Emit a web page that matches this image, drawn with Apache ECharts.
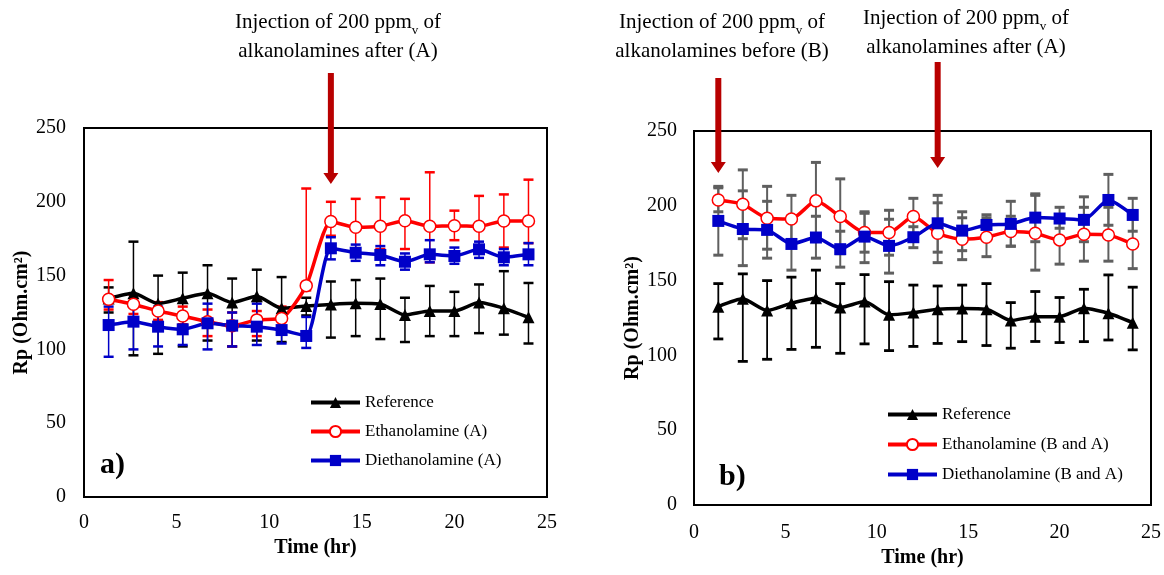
<!DOCTYPE html>
<html>
<head>
<meta charset="utf-8">
<script src="https://cdn.jsdelivr.net/npm/echarts@6/dist/echarts.min.js"></script>
<style>
html,body{margin:0;padding:0;background:#fff;}
#c{width:1164px;height:575px;}
</style>
</head>
<body>
<div id="c"></div>
<script>
// ---- Data ----
const times = [1.33, 2.67, 4, 5.33, 6.67, 8, 9.33, 10.67, 12, 13.33, 14.67, 16, 17.33, 18.67, 20, 21.33, 22.67, 24];
const xTicks = [0, 5, 10, 15, 20, 25];
const yTicks = [0, 50, 100, 150, 200, 250];

// Panel a)
const refA   = [134.5, 138, 131, 134.6, 138, 131.7, 136, 127.8, 129.4, 130.5, 131.2, 130.8, 123.3, 126, 126, 131.7, 127.8, 121.7];
const refAHi = [142, 173, 150, 152, 157, 148, 154, 149, 135, 146, 147, 148, 135, 143, 139, 144, 153, 145];
const refALo = [125, 96, 97, 102, 106, 102, 106, 105, 123, 108, 109, 107, 105, 109, 109, 111, 110, 104];

const ethA   = [134, 130.6, 126, 122.6, 118.8, 116, 120, 121, 143.2, 186.7, 182.7, 183.4, 187.2, 183.4, 183.8, 183.4, 187, 187];
const ethAHi = [147, 137, 132, 129, 127, 125, 126, 129, 209, 200, 202, 203, 202, 220, 194, 204, 205, 215];
const ethALo = [127, 124, 120, 117, 109, 102, 109, 110, 140, 177, 168, 168, 168, 159, 174, 168, 169, 172];

const dieA   = [116.5, 118.8, 115.4, 113.6, 117.7, 116.1, 115.4, 113.1, 109.1, 168.5, 165.5, 164, 159.4, 164.4, 163.3, 167.8, 162.4, 164.4];
const dieAHi = [129, 131, 129, 124, 131, 125, 131, 121, 122, 176, 171, 170, 165, 174, 169, 173, 168, 172];
const dieALo = [95, 100, 102, 103, 100, 102, 103, 104, 101, 161, 160, 157, 154, 159, 158, 162, 157, 157];

// Panel b)
const refB   = [132.6, 137.8, 130, 134.9, 138.2, 132, 136, 127.1, 128.6, 130.9, 131.3, 130.9, 123.3, 125.9, 125.9, 131.5, 128.2, 121.9];
const refBHi = [148, 154.5, 150, 152.3, 157, 148, 154, 149.3, 147, 146.4, 147, 148, 135.3, 142.7, 138.7, 144.2, 153.8, 145.6];
const refBLo = [111, 96, 97.4, 104, 105.4, 101.4, 107.7, 103.2, 106, 108, 109.2, 106.6, 104.8, 109.3, 108.6, 109.2, 110.3, 103.7];

const ethB   = [203.9, 201, 191.7, 191.2, 203.3, 192.8, 182.1, 182.1, 192.8, 181.6, 177.6, 179, 182.8, 181.6, 177.2, 181, 180.5, 174.5];
const ethBHi = [212, 224, 213, 207, 229, 218, 195, 197, 205, 202, 192, 192, 193, 207, 193, 199, 199, 192];
const ethBLo = [196, 178, 171, 175, 177, 168, 169, 167, 181, 162, 164, 166, 173, 157, 161, 163, 163, 158];

const dieB   = [189.9, 184.5, 183.9, 174.5, 178.8, 171, 179.4, 173.2, 179, 188.3, 183.4, 187.2, 187.9, 192.1, 191.5, 190.6, 203.9, 193.9];
const dieBHi = [213, 210, 203, 193, 193, 183, 196, 191, 186, 207, 196, 194, 203, 208, 199, 206, 221, 205];
const dieBLo = [167, 160, 165, 157, 165, 159, 162, 155, 172, 169, 170, 180, 173, 176, 185, 176, 187, 183];

const namesA = ['Reference', 'Ethanolamine (A)', 'Diethanolamine (A)'];
const namesB = ['Reference', 'Ethanolamine (B and A)', 'Diethanolamine (B and A)'];
const injectionAfter = 13.33;
const injectionBefore = 1.33;

// ---- Helpers ----
const FONT = '"Liberation Serif", "Times New Roman", serif';
const RED = '#ff0000', BLUE = '#0000c8', BLACK = '#000000', GREY = '#5f5f5f', DARKRED = '#b80000';

function pairs(vals) { return times.map((t, i) => [t, vals[i]]); }
function errData(lo, hi) { return times.map((t, i) => [t, lo[i], hi[i]]); }

function errSeries(idx, lo, hi, color, lw) {
  return {
    type: 'custom', xAxisIndex: idx, yAxisIndex: idx, z: 1, silent: true,
    data: errData(lo, hi), encode: { x: 0, y: [1, 2] },
    renderItem: function (params, api) {
      const x = api.value(0);
      const pHi = api.coord([x, api.value(2)]);
      const pLo = api.coord([x, api.value(1)]);
      const w = 5;
      const st = { stroke: color, lineWidth: lw };
      return {
        type: 'group', children: [
          { type: 'line', shape: { x1: pHi[0], y1: pHi[1], x2: pLo[0], y2: pLo[1] }, style: st },
          { type: 'line', shape: { x1: pHi[0] - w, y1: pHi[1], x2: pHi[0] + w, y2: pHi[1] }, style: { stroke: color, lineWidth: lw + 1 } },
          { type: 'line', shape: { x1: pLo[0] - w, y1: pLo[1], x2: pLo[0] + w, y2: pLo[1] }, style: { stroke: color, lineWidth: lw + 1 } }
        ]
      };
    }
  };
}

function lineSeries(idx, name, vals, kind) {
  const base = {
    type: 'line', name: name, xAxisIndex: idx, yAxisIndex: idx, z: 3,
    data: pairs(vals), smooth: 0.2, showAllSymbol: true,
    lineStyle: { width: 3.5 }
  };
  if (kind === 'ref') {
    base.symbol = 'triangle'; base.symbolSize = 12;
    base.lineStyle.color = BLACK; base.itemStyle = { color: BLACK };
  } else if (kind === 'eth') {
    base.symbol = 'circle'; base.symbolSize = 12;
    base.lineStyle.color = RED; base.itemStyle = { color: '#fff', borderColor: RED, borderWidth: 1.5 };
  } else {
    base.symbol = 'rect'; base.symbolSize = 12;
    base.lineStyle.color = BLUE; base.itemStyle = { color: BLUE };
  }
  base.emphasis = { disabled: true };
  return base;
}

function xAxisCfg(idx, gap) {
  return {
    type: 'value', gridIndex: idx, min: xTicks[0], max: xTicks[xTicks.length - 1], interval: 5,
    axisLine: { show: false }, axisTick: { show: false }, splitLine: { show: false },
    axisLabel: { color: '#000', fontFamily: FONT, fontSize: 20, margin: idx === 0 ? 16 : 18 },
    name: 'Time (hr)', nameLocation: 'middle', nameGap: gap,
    nameTextStyle: { color: '#000', fontFamily: FONT, fontSize: 20, fontWeight: 'bold' }
  };
}
function yAxisCfg(idx, gap) {
  return {
    type: 'value', gridIndex: idx, min: yTicks[0], max: yTicks[yTicks.length - 1], interval: 50,
    axisLine: { show: false }, axisTick: { show: false }, splitLine: { show: false },
    axisLabel: { color: '#000', fontFamily: FONT, fontSize: 20, margin: idx === 0 ? 18 : 17 },
    name: 'Rp (Ohm.cm²)', nameLocation: 'middle', nameGap: gap, nameRotate: 90,
    nameTextStyle: { color: '#000', fontFamily: FONT, fontSize: 20, fontWeight: 'bold' }
  };
}

const legendCommon = {
  orient: 'vertical', itemWidth: 49, itemHeight: 14, selectedMode: false,
  lineStyle: { width: 4 },
  textStyle: { color: '#000', fontFamily: FONT, fontSize: 17 }
};

const chart = echarts.init(document.getElementById('c'), null, { renderer: 'canvas' });

const option = {
  animation: false,
  backgroundColor: '#fff',
  grid: [
    { left: 84, top: 128, width: 463, height: 369, show: true, borderColor: '#000', borderWidth: 2, backgroundColor: 'transparent' },
    { left: 694, top: 131, width: 459, height: 374, show: true, borderColor: '#000', borderWidth: 2, backgroundColor: 'transparent' }
  ],
  xAxis: [xAxisCfg(0, 34), xAxisCfg(1, 42)],
  yAxis: [yAxisCfg(0, 45), yAxisCfg(1, 44)],
  legend: [
    Object.assign({}, legendCommon, { data: namesA, left: 304, top: 389, itemGap: 12 }),
    Object.assign({}, legendCommon, { data: namesB.slice(), left: 881, top: 401, itemGap: 13 })
  ],
  series: [
    errSeries(0, refALo, refAHi, BLACK, 1.5),
    errSeries(0, ethALo, ethAHi, RED, 1.5),
    errSeries(0, dieALo, dieAHi, BLUE, 1.5),
    lineSeries(0, namesA[0], refA, 'ref'),
    lineSeries(0, namesA[1], ethA, 'eth'),
    lineSeries(0, namesA[2], dieA, 'die'),
    errSeries(1, refBLo, refBHi, BLACK, 1.8),
    errSeries(1, ethBLo, ethBHi, GREY, 2),
    errSeries(1, dieBLo, dieBHi, GREY, 2),
    lineSeries(1, namesB[0], refB, 'ref'),
    lineSeries(1, namesB[1], ethB, 'eth'),
    lineSeries(1, namesB[2], dieB, 'die')
  ]
};
chart.setOption(option);

// ---- Annotations (arrows + text) ----
function arrow(x, yTop, yTip) {
  const sw = 3, hw = 7.5, hh = 11;
  return {
    type: 'polygon', z: 10, silent: true,
    shape: { points: [[x - sw, yTop], [x + sw, yTop], [x + sw, yTip - hh], [x + hw, yTip - hh], [x, yTip], [x - hw, yTip - hh], [x - sw, yTip - hh]] },
    style: { fill: DARKRED }
  };
}
function label(x, y, line2) {
  return {
    type: 'text', z: 10, silent: true, x: x, y: y,
    style: {
      text: 'Injection of 200 ppm{s|v} of\n' + line2,
      align: 'center', verticalAlign: 'top',
      fontFamily: FONT, fontSize: 21, lineHeight: 29, fill: '#000',
      rich: { s: { fontFamily: FONT, fontSize: 13, verticalAlign: 'bottom', lineHeight: 22, padding: [7, 0, 0, 0] } }
    }
  };
}
const xa = chart.convertToPixel({ xAxisIndex: 0 }, injectionAfter);
const xbB = chart.convertToPixel({ xAxisIndex: 1 }, injectionBefore);
const xbA = chart.convertToPixel({ xAxisIndex: 1 }, injectionAfter);

chart.setOption({
  graphic: [
    arrow(xa, 73, 184),
    arrow(xbB, 78, 173),
    arrow(xbA, 62, 168),
    label(338, 8, 'alkanolamines after (A)'),
    label(722, 8, 'alkanolamines before (B)'),
    label(966, 4, 'alkanolamines after (A)'),
    { type: 'text', x: 100, y: 450, silent: true, style: { text: 'a)', fontFamily: FONT, fontSize: 30, fontWeight: 'bold', fill: '#000' } },
    { type: 'text', x: 719, y: 462, silent: true, style: { text: 'b)', fontFamily: FONT, fontSize: 30, fontWeight: 'bold', fill: '#000' } }
  ]
});
</script>
</body>
</html>
